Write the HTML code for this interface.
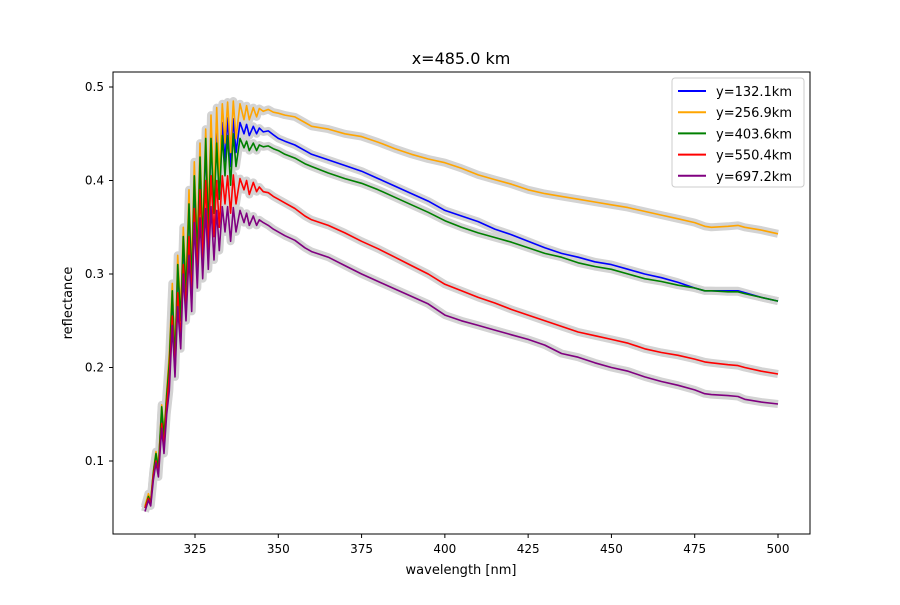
<!DOCTYPE html>
<html><head><meta charset="utf-8"><style>
body{margin:0;background:#fff;font-family:"Liberation Sans","DejaVu Sans",sans-serif;}
svg text{font-family:"DejaVu Sans","Liberation Sans",sans-serif;}
</style></head><body>
<svg id="chart" width="900" height="600" xmlns="http://www.w3.org/2000/svg">
<rect width="900" height="600" fill="#fff"/>
<text x="461" y="64" font-size="16" text-anchor="middle">x=485.0 km</text>
<g id="plot"></g>
<rect x="113" y="72" width="697" height="462" fill="none" stroke="#000" stroke-width="1"/>
<g id="xticks"></g><g id="yticks"></g>
<text x="461" y="574" font-size="13" text-anchor="middle">wavelength [nm]</text>
<text transform="translate(72,303) rotate(-90)" font-size="13" text-anchor="middle">reflectance</text>
<g id="legend"></g>
</svg>
<script>
const wavelengths=[310,311,311.7,312.5,313.3,314,315,315.7,316.5,317.3,318.2,319,319.8,320.7,321.5,322.3,323.2,324,324.8,325.7,326.5,327.3,328.2,329,329.8,330.7,331.5,332.3,333.2,334,334.8,335.7,336.5,337.3,338.5,339.7,340.5,341.3,342.5,343.5,344.3,345.5,347,348.5,350,352,355,358,360,365,370,375,380,385,390,395,400,405,410,415,420,425,430,435,440,445,450,455,460,465,470,475,478,480,485,488,490,495,500];
const seriesLabels=["y=132.1km","y=256.9km","y=403.6km","y=550.4km","y=697.2km"];
const seriesColors=["blue","orange","green","red","purple"];
const y132=[.050,.062,.056,.088,.108,.093,.155,.125,.170,.205,.280,.205,.305,.250,.335,.280,.375,.290,.400,.320,.425,.330,.440,.345,.445,.365,.460,.380,.462,.420,.467,.415,.466,.430,.462,.450,.460,.448,.458,.450,.456,.452,.453,.449,.445,.442,.438,.432,.428,.422,.416,.410,.402,.394,.386,.378,.368,.362,.356,.348,.342,.335,.328,.322,.318,.313,.310,.305,.300,.296,.291,.285,.282,.282,.282,.282,.280,.275,.271];
const y257=[.052,.065,.058,.090,.110,.095,.160,.130,.175,.215,.290,.210,.320,.260,.350,.290,.390,.300,.420,.330,.440,.340,.455,.360,.470,.380,.478,.400,.482,.440,.484,.430,.485,.445,.482,.465,.480,.465,.478,.468,.477,.474,.476,.473,.472,.470,.468,.462,.458,.455,.450,.447,.441,.434,.428,.423,.419,.413,.406,.401,.396,.390,.386,.383,.380,.377,.374,.371,.367,.363,.359,.355,.351,.350,.351,.352,.350,.347,.343];
const y404=[.050,.062,.056,.088,.108,.092,.158,.125,.170,.205,.282,.205,.310,.250,.340,.280,.375,.290,.405,.320,.425,.330,.445,.345,.445,.365,.440,.380,.448,.405,.448,.395,.450,.415,.445,.435,.442,.432,.440,.432,.438,.436,.437,.434,.432,.428,.424,.418,.415,.408,.402,.397,.390,.382,.374,.366,.357,.350,.344,.339,.334,.328,.322,.318,.312,.308,.305,.300,.295,.292,.288,.285,.282,.282,.281,.281,.279,.275,.271];
const y550=[.050,.060,.054,.085,.100,.088,.140,.115,.160,.190,.255,.195,.280,.230,.310,.262,.340,.272,.370,.300,.390,.310,.400,.325,.405,.340,.400,.350,.405,.375,.405,.365,.406,.375,.402,.390,.400,.385,.398,.388,.393,.388,.387,.383,.380,.376,.370,.362,.358,.352,.344,.335,.327,.318,.309,.300,.289,.282,.275,.269,.262,.256,.250,.244,.238,.234,.230,.226,.220,.216,.213,.209,.206,.205,.203,.202,.200,.196,.193];
const y697=[.046,.058,.052,.080,.098,.083,.135,.108,.150,.175,.245,.190,.265,.220,.300,.250,.320,.260,.355,.285,.360,.295,.370,.305,.372,.315,.368,.325,.372,.345,.372,.335,.371,.345,.368,.355,.365,.352,.362,.352,.358,.355,.352,.348,.345,.341,.336,.328,.324,.318,.309,.300,.292,.284,.276,.268,.256,.250,.245,.240,.235,.230,.224,.215,.211,.205,.200,.196,.190,.185,.181,.176,.172,.171,.170,.169,.166,.163,.161];
const seriesValues=[y132,y257,y404,y550,y697];
const xTicks=[325,350,375,400,425,450,475,500];
const yTicks=[0.1,0.2,0.3,0.4,0.5];
const NS="http://www.w3.org/2000/svg";
function xs(v){return 195+(v-325)*(583/175);}
function ys(v){return 461-(v-0.1)*935;}
const plot=document.getElementById('plot');
function mk(tag,attrs,parent){const e=document.createElementNS(NS,tag);for(const k in attrs)e.setAttribute(k,attrs[k]);parent.appendChild(e);return e;}
seriesValues.forEach((vals,i)=>{
  const d=vals.map((v,j)=>(j?'L':'M')+xs(wavelengths[j]).toFixed(1)+','+ys(v).toFixed(1)).join('');
  const band=mk('path',{d:d,fill:'none',stroke:'#d3d3d3','stroke-width':8,'stroke-linejoin':'round'},plot);
  
  
});
seriesValues.forEach((vals,i)=>{
  const d=vals.map((v,j)=>(j?'L':'M')+xs(wavelengths[j]).toFixed(1)+','+ys(v).toFixed(1)).join('');
  const ln=mk('path',{d:d,fill:'none',stroke:seriesColors[i],'stroke-width':1.6,'stroke-linejoin':'round'},plot);
  
  
});
const xt=document.getElementById('xticks');
xTicks.forEach(t=>{
  const x=xs(t);
  const l=mk('line',{x1:x,x2:x,y1:534,y2:538,stroke:'#000'},xt);
  
  
  const tx=mk('text',{x:x,y:553,'font-size':12,'text-anchor':'middle'},xt);
  
  
  tx.textContent=t;
});
const yt=document.getElementById('yticks');
yTicks.forEach(t=>{
  const y=ys(t);
  const l=mk('line',{x1:109,x2:113,y1:y,y2:y,stroke:'#000'},yt);
  
  
  const tx=mk('text',{x:104,y:y+4,'font-size':12,'text-anchor':'end'},yt);
  
  
  tx.textContent=t.toFixed(1);
});
const lg=document.getElementById('legend');
mk('rect',{x:672,y:78,width:132,height:109,rx:3,fill:'#fff','fill-opacity':0.8,stroke:'#ccc'},lg);
seriesLabels.forEach((s,i)=>{
  const y=91+i*21.2;
  const l=mk('line',{x1:678,x2:706,y1:y,y2:y,stroke:seriesColors[i],'stroke-width':2},lg);
  
  
  const tx=mk('text',{x:716,y:y+5,'font-size':13},lg);
  
  
  tx.textContent=s;
});
</script>
</body></html>
